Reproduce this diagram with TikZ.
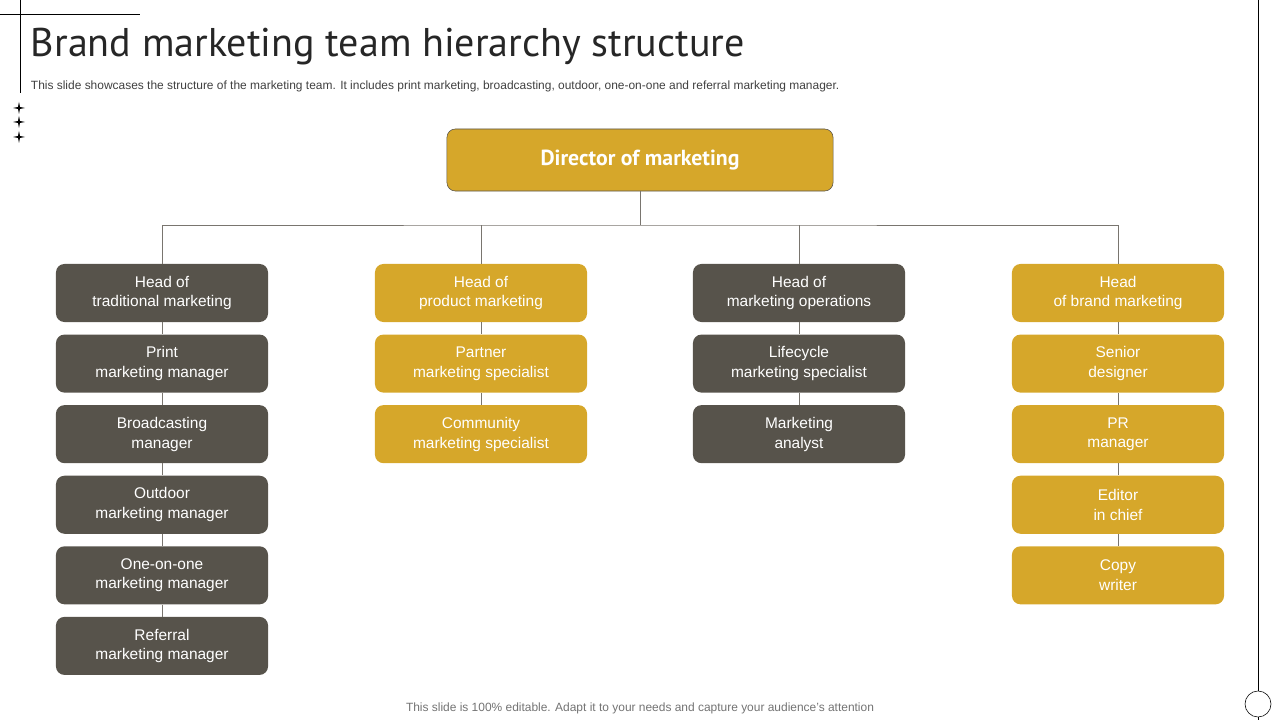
\documentclass[tikz,border=0pt]{standalone}
\usepackage{fontspec}
\setmainfont{Liberation Sans}
\newfontfamily\titlefont{PT Sans}
\usetikzlibrary{positioning}
\definecolor{gold}{HTML}{D6A72A}
\definecolor{slate}{HTML}{57534B}
\begin{document}
\begin{tikzpicture}[x=0.025cm, y=-0.025cm,
    role/.style={rounded corners=6pt, minimum width=5.3cm, minimum height=1.45cm, text=white,
        align=center, font=\fontsize{11}{14}\selectfont},
    darkrole/.style={role, fill=slate},
    goldrole/.style={role, fill=gold},
    link/.style={draw=slate!80, line width=0.5pt}]
        \useasboundingbox (0,0) rectangle (1280,720);
        % Frame marks
        \draw[black] (20,0) -- (20,93);
        \draw[black] (0,14) -- (140,14);
        \draw[black] (1258,0) -- (1258,691);
        \draw[black] (1258,704) circle (13*0.025cm);
        \draw[black] (1258,717) -- (1258,720);
        \foreach \sy in {108,122,137}
            \fill[black] (19,\sy-6) -- (20,\sy-1) -- (25,\sy) -- (20,\sy+1) -- (19,\sy+6) -- (18,\sy+1) -- (13,\sy) -- (18,\sy-1) -- cycle;
        
        % Title
        \node[anchor=west, text=black!85] (title) at (26,47) {\titlefont\fontsize{28.5}{31}\selectfont Brand marketing team hierarchy structure};
        \node[anchor=west, text=black!75] (sub) at (26,86) {\fontsize{8.5}{10}\selectfont This slide showcases the structure of the marketing team. It includes print marketing, broadcasting, outdoor, one-on-one and referral marketing manager.};
        \node[text=black!55] (foot) at (640,708) {\fontsize{8.5}{10}\selectfont This slide is 100\% editable. Adapt it to your needs and capture your audience's attention};
        
        % Director
        \node[fill=gold, draw=slate, rounded corners=6pt, minimum width=9.65cm, minimum height=1.55cm, text=white,
            font=\titlefont\bfseries\fontsize{15.5}{18}\selectfont] (dir) at (640,160) {Director of marketing};
        
        % Column heads
        \node[darkrole] (h1) at (162,293) {Head of\\traditional marketing};
        \node[goldrole] (h2) at (481,293) {Head of\\product marketing};
        \node[darkrole] (h3) at (799,293) {Head of\\marketing operations};
        \node[goldrole] (h4) at (1118,293) {Head\\of brand marketing};
        
        % Traditional
        \node[darkrole, below=0.3cm of h1] (t1) {Print\\marketing manager};
        \node[darkrole, below=0.3cm of t1] (t2) {Broadcasting\\manager};
        \node[darkrole, below=0.3cm of t2] (t3) {Outdoor\\marketing manager};
        \node[darkrole, below=0.3cm of t3] (t4) {One-on-one\\marketing manager};
        \node[darkrole, below=0.3cm of t4] (t5) {Referral\\marketing manager};
        
        % Product
        \node[goldrole, below=0.3cm of h2] (p1) {Partner\\marketing specialist};
        \node[goldrole, below=0.3cm of p1] (p2) {Community\\marketing specialist};
        
        % Operations
        \node[darkrole, below=0.3cm of h3] (o1) {Lifecycle\\marketing specialist};
        \node[darkrole, below=0.3cm of o1] (o2) {Marketing\\analyst};
        
        % Brand
        \node[goldrole, below=0.3cm of h4] (b1) {Senior\\designer};
        \node[goldrole, below=0.3cm of b1] (b2) {PR\\manager};
        \node[goldrole, below=0.3cm of b2] (b3) {Editor\\in chief};
        \node[goldrole, below=0.3cm of b3] (b4) {Copy\\writer};
        
        % Connectors
        \coordinate (bus) at (640,225);
        \draw[link] (dir.south) -- (bus);
        \draw[link] (h1.north) |- (bus) -| (h4.north);
        \draw[link] (h2.north) -- (h2.north |- bus);
        \draw[link] (h3.north) -- (h3.north |- bus);
        \draw[link] (h1) -- (t1) -- (t2) -- (t3) -- (t4) -- (t5);
        \draw[link] (h2) -- (p1) -- (p2);
        \draw[link] (h3) -- (o1) -- (o2);
        \draw[link] (h4) -- (b1) -- (b2) -- (b3) -- (b4);
    \end{tikzpicture}
\end{document}
